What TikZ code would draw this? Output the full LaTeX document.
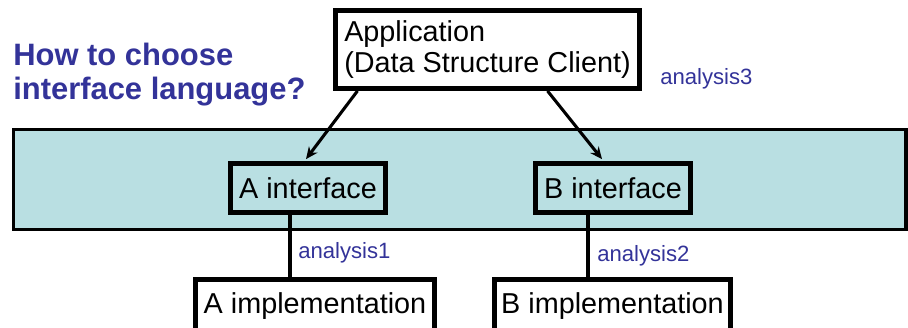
\documentclass[tikz,border=0pt]{standalone}
\usepackage{fontspec}
\setmainfont{Liberation Sans}
\usepackage{tikz}
\usetikzlibrary{arrows.meta,positioning,calc}
\definecolor{slideblue}{HTML}{333399}
\definecolor{layer}{HTML}{B9DFE2}

\begin{document}
\begin{tikzpicture}[x=0.75pt,y=-0.75pt,
  box/.style={draw,line width=3.6pt,inner sep=0pt,fill=white,
              font=\fontsize{21.6}{23.25}\selectfont},
  ifc/.style={box,fill=layer,minimum width=116.25pt,minimum height=36.75pt},
  impl/.style={box,minimum height=40.5pt},
  lbl/.style={text=slideblue,font=\fontsize{16.6}{20}\selectfont,anchor=west,inner sep=0pt},
  arr/.style={-{Stealth[length=9pt,width=8pt]},line width=2.3pt}]
\useasboundingbox (0,0) rectangle (908,328);

% interface layer
\draw[fill=layer,line width=2.3pt] (13.5,129.5) rectangle (906,229.5);

\node[text=slideblue,font=\bfseries\fontsize{23.2}{25.5}\selectfont,
      align=left,anchor=west,inner sep=0pt] (q) at (13,75)
   {How to choose\\interface language?};

\node[box,align=left,minimum width=228pt,minimum height=58.5pt] (app) at (487.5,49.5)
   {Application\\(Data Structure Client)};
\node[lbl] (a3) at (660,79) {analysis3};

\node[ifc] (aif) at (308,188) {A interface};
\node[ifc] (bif) at (613,188) {B interface};

\node[impl,minimum width=179.25pt] (aimp) at (315,306.5) {A implementation};
\node[impl,minimum width=177pt]    (bimp) at (612.5,306.5) {B implementation};

\draw[arr] ($(app.south)+(-130,0)$) -- ($(aif.north)+(-2,-2)$);
\draw[arr] ($(app.south)+(60,0)$) -- ($(bif.north)+(-11,-2)$);

\coordinate (al) at (290,0);
\coordinate (bl) at (588,0);
\draw[line width=2.3pt] (aif.south -| al) -- (aimp.north -| al);
\draw[line width=2.3pt] (bif.south -| bl) -- (bimp.north -| bl);
\node[lbl] (a1) at (298,253) {analysis1};
\node[lbl] (a2) at (597,256) {analysis2};
\end{tikzpicture}
\end{document}
